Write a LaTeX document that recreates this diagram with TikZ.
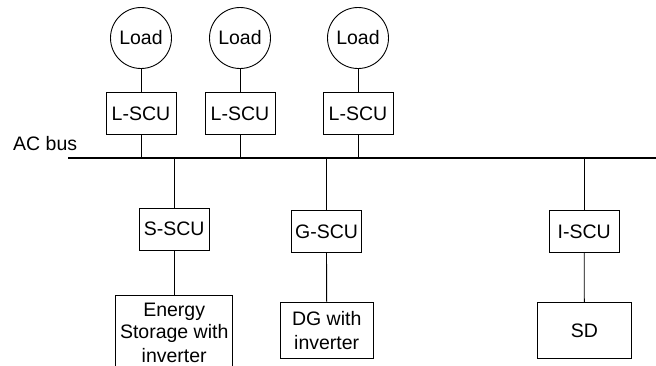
\documentclass[tikz,border=0pt]{standalone}
\usepackage{fontspec}
\setmainfont{Liberation Sans}
\begin{document}
\begin{tikzpicture}[x=1pt,y=-1pt,
  every node/.style={font=\fontsize{19.5}{23}\selectfont},
  loadc/.style={draw,circle,minimum size=61pt,inner sep=0pt,line width=0.9pt},
  scubox/.style={draw,rectangle,minimum width=70pt,minimum height=42pt,inner sep=0pt,line width=0.9pt},
  devbox/.style={draw,rectangle,inner sep=0pt,align=center,line width=0.9pt},
  wire/.style={line width=0.9pt},
  bus/.style={line width=2pt}]
\clip (0,0) rectangle (656,365);
\fill[white] (0,0) rectangle (656,365);
% bus
\coordinate (busL) at (68,158.3);
\coordinate (busR) at (656,158.3);
\draw[bus] (busL) -- (busR);
\node[anchor=base west,inner sep=0pt] (acbus) at (13,150) {AC bus};
% loads
\node[loadc] (ld1) at (141,38) {Load};
\node[loadc] (ld2) at (240,38) {Load};
\node[loadc] (ld3) at (358,38) {Load};
\node[scubox] (l1) at (141,113.5) {L-SCU};
\node[scubox] (l2) at (240,113.5) {L-SCU};
\node[scubox] (l3) at (358,113.5) {L-SCU};
\foreach \i in {1,2,3}{
  \draw[wire] (ld\i.south) -- (l\i.north);
  \draw[wire] (l\i.south) -- (l\i.south |- busL);
}
% lower units
\node[scubox] (s) at (174.2,229) {S-SCU};
\node[scubox] (g) at (326.5,231.5) {G-SCU};
\node[scubox] (iscu) at (584.2,231.5) {I-SCU};
\node[devbox,minimum width=117pt,minimum height=75pt] (es) at (174.2,332.5) {Energy\\[-1pt]Storage with\\[1pt]inverter};
\node[devbox,minimum width=93.3pt,minimum height=56pt] (dg) at (326.7,330.3) {DG with\\[1pt]inverter};
\node[devbox,minimum width=94pt,minimum height=56pt] (sd) at (584.3,330.3) {SD};
\foreach \n in {s,g,iscu}{
  \draw[wire] (\n.north |- busL) -- (\n.north);
}
\draw[wire] (s.south) -- (es.north);
\draw[wire] (g.south) -- (dg.north);
\draw[wire] (iscu.south) -- (sd.north);
\end{tikzpicture}
\end{document}
